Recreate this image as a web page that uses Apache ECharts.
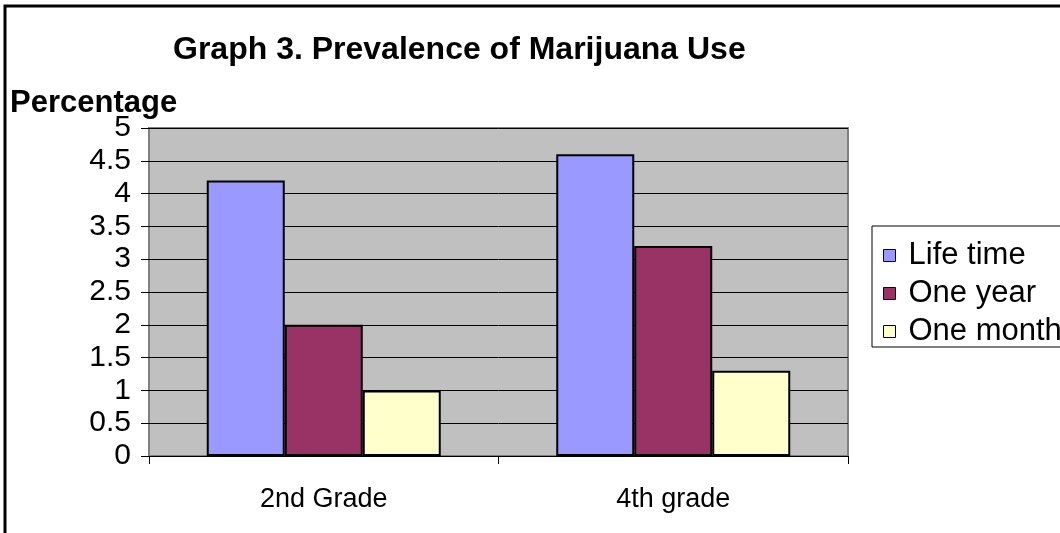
<!DOCTYPE html>
<html>
<head>
<meta charset="utf-8">
<script src="https://cdn.jsdelivr.net/npm/echarts@6/dist/echarts.min.js"></script>
<style>
  html, body { margin: 0; padding: 0; background: #fff; }
  #chart { width: 1060px; height: 533px; }
</style>
</head>
<body>
<div id="chart"></div>
<script>
  // data
  const categories = ['2nd Grade', '4th grade'];
  const lifeTime = [4.2, 4.6];
  const oneYear = [2.0, 3.2];
  const oneMonth = [1.0, 1.3];
  const seriesNames = ['Life time', 'One year', 'One month'];
  const seriesColors = ['#9999FF', '#993366', '#FFFFCC'];

  const font = '"Liberation Sans", Arial, sans-serif';

  const chart = echarts.init(document.getElementById('chart'));

  const barStyle = color => ({
    color: color,
    borderColor: '#000',
    borderWidth: 2
  });

  chart.setOption({
    animation: false,
    title: [
      {
        text: 'Graph 3. Prevalence of Marijuana Use',
        left: 173,
        top: 34,
        padding: 0,
        textStyle: {fontFamily: font, fontSize: 32, fontWeight: 'bold', color: '#000'}
      },
      {
        text: 'Percentage',
        left: 10,
        top: 88,
        padding: 0,
        textStyle: {fontFamily: font, fontSize: 31, fontWeight: 'bold', color: '#000'}
      }
    ],
    legend: {
      orient: 'vertical',
      left: 872,
      top: 226,
      padding: [14, 20, 0, 11],
      itemWidth: 12,
      itemHeight: 12,
      itemGap: 7,
      icon: 'rect',
      borderColor: '#000',
      borderWidth: 1,
      itemStyle: {borderWidth: 1, borderColor: '#000'},
      textStyle: {fontFamily: font, fontSize: 31, color: '#000', padding: [0, 0, 0, 8]},
      data: seriesNames
    },
    grid: {
      left: 149,
      right: 212,
      top: 128,
      bottom: 77,
      show: true,
      backgroundColor: '#C0C0C0',
      borderColor: '#808080',
      borderWidth: 2
    },
    xAxis: {
      type: 'category',
      data: categories,
      axisLine: {lineStyle: {color: '#000', width: 1}},
      axisTick: {show: true, length: 8, lineStyle: {color: '#000'}},
      axisLabel: {fontFamily: font, fontSize: 27, color: '#000', margin: 30}
    },
    yAxis: {
      type: 'value',
      min: 0,
      max: 5,
      interval: 0.5,
      axisLine: {show: false},
      axisTick: {show: true, length: 8, lineStyle: {color: '#000'}},
      axisLabel: {fontFamily: font, fontSize: 30, color: '#000', margin: 18},
      splitLine: {lineStyle: {color: '#000', width: 1}}
    },
    series: [
      {name: seriesNames[0], type: 'bar', data: lifeTime, barWidth: 78, barGap: '0%', itemStyle: barStyle(seriesColors[0])},
      {name: seriesNames[1], type: 'bar', data: oneYear, barWidth: 78, barGap: '0%', itemStyle: barStyle(seriesColors[1])},
      {name: seriesNames[2], type: 'bar', data: oneMonth, barWidth: 78, barGap: '0%', itemStyle: barStyle(seriesColors[2])}
    ],
    graphic: [
      {
        type: 'polyline',
        shape: {points: [[5, 533], [5, 6], [1060, 6]]},
        style: {stroke: '#000', lineWidth: 3, fill: null}
      }
    ]
  });
</script>
</body>
</html>
